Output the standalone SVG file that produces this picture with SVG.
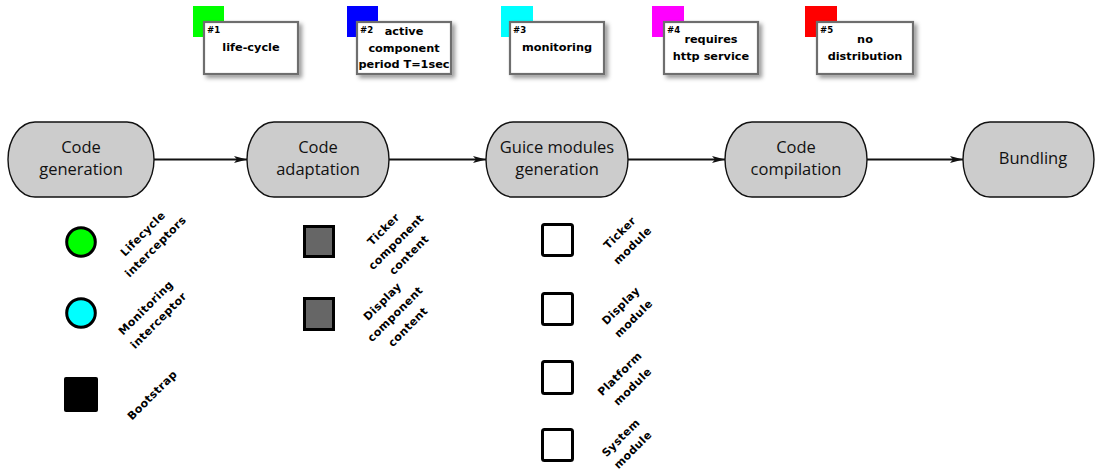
<svg xmlns="http://www.w3.org/2000/svg" width="1097" height="472" viewBox="0 0 1097 472">
  <defs>
    <marker id="arrow" markerUnits="userSpaceOnUse" markerWidth="14" markerHeight="8" refX="13" refY="3.5" orient="auto">
      <path d="M0,0 L13,3.5 L0,7 L3,3.5 z" fill="#111"/>
    </marker>
    <filter id="shadow" x="-20%" y="-20%" width="150%" height="160%">
      <feDropShadow dx="3" dy="3" stdDeviation="2" flood-color="#000" flood-opacity="0.4"/>
    </filter>
  </defs>
  <style>
    .step { fill: #cccccc; stroke: #111; stroke-width: 1.4; }
    .step-text { font-family: "Open Sans", "Liberation Sans", sans-serif; font-size: 16.5px; fill: #111; text-anchor: middle; }
    .note { fill: #ffffff; stroke: #6e6e6e; stroke-width: 2.2; filter: url(#shadow); }
    .note-text { font-family: "DejaVu Sans", sans-serif; font-weight: bold; font-size: 11.3px; fill: #000; text-anchor: middle; }
    .note-num { font-family: "DejaVu Sans Condensed", "DejaVu Sans", sans-serif; font-weight: bold; font-size: 9.5px; fill: #000; }
    .flow { stroke: #111; stroke-width: 2; fill: none; marker-end: url(#arrow); }
    .icon { stroke: #000; stroke-width: 3; }
    .label { font-family: "DejaVu Sans", sans-serif; font-weight: bold; font-size: 11px; letter-spacing: 0.4px; fill: #000; text-anchor: middle; }
  </style>

  <!-- annotation notes -->
  <g id="note1">
    <rect x="193" y="6" width="31" height="31" fill="#00ff00"/>
    <rect class="note" x="204" y="22" width="94" height="52"/>
    <text class="note-num" x="207" y="33">#1</text>
    <text class="note-text" x="251" y="51">life-cycle</text>
  </g>
  <g id="note2">
    <rect x="347" y="6" width="31" height="31" fill="#0000ff"/>
    <rect class="note" x="357" y="22" width="94" height="52"/>
    <text class="note-num" x="360" y="33">#2</text>
    <text class="note-text" x="404" y="35">active</text>
    <text class="note-text" x="404" y="52">component</text>
    <text class="note-text" x="404" y="68">period T=1sec</text>
  </g>
  <g id="note3">
    <rect x="501" y="6" width="32" height="31" fill="#00ffff"/>
    <rect class="note" x="510" y="22" width="94" height="52"/>
    <text class="note-num" x="513" y="33">#3</text>
    <text class="note-text" x="557" y="51">monitoring</text>
  </g>
  <g id="note4">
    <rect x="652" y="6" width="32" height="31" fill="#ff00ff"/>
    <rect class="note" x="664" y="22" width="94" height="52"/>
    <text class="note-num" x="667" y="33">#4</text>
    <text class="note-text" x="711" y="43">requires</text>
    <text class="note-text" x="711" y="60">http service</text>
  </g>
  <g id="note5">
    <rect x="805" y="6" width="32" height="31" fill="#ff0000"/>
    <rect class="note" x="817" y="22" width="96" height="52"/>
    <text class="note-num" x="820" y="33">#5</text>
    <text class="note-text" x="865" y="43">no</text>
    <text class="note-text" x="865" y="60">distribution</text>
  </g>

  <!-- pipeline steps -->
  <g id="code-generation">
    <rect class="step" x="8" y="122" width="146" height="75" rx="27" ry="37.5"/>
    <text class="step-text" x="81" y="153">Code</text>
    <text class="step-text" x="81" y="175">generation</text>
  </g>
  <g id="code-adaptation">
    <rect class="step" x="247" y="122" width="142" height="75" rx="27" ry="37.5"/>
    <text class="step-text" x="318" y="153">Code</text>
    <text class="step-text" x="318" y="175">adaptation</text>
  </g>
  <g id="guice-modules-generation">
    <rect class="step" x="486" y="122" width="142" height="75" rx="27" ry="37.5"/>
    <text class="step-text" x="557" y="153">Guice modules</text>
    <text class="step-text" x="557" y="175">generation</text>
  </g>
  <g id="code-compilation">
    <rect class="step" x="725" y="122" width="142" height="75" rx="27" ry="37.5"/>
    <text class="step-text" x="796" y="153">Code</text>
    <text class="step-text" x="796" y="175">compilation</text>
  </g>
  <g id="bundling">
    <rect class="step" x="963" y="122" width="131" height="75" rx="27" ry="37.5"/>
    <text class="step-text" x="1033" y="164">Bundling</text>
  </g>

  <!-- connectors -->
  <g id="connectors">
    <line class="flow" x1="154" y1="159.5" x2="247" y2="159.5"/>
    <line class="flow" x1="389" y1="159.5" x2="486" y2="159.5"/>
    <line class="flow" x1="628" y1="159.5" x2="725" y2="159.5"/>
    <line class="flow" x1="867" y1="159.5" x2="963" y2="159.5"/>
  </g>

  <!-- artefacts of code generation -->
  <g id="lifecycle-interceptors">
    <circle class="icon" cx="81" cy="242" r="14.3" fill="#00ff00"/>
    <g transform="translate(149,240) rotate(-45)">
      <text class="label" x="0" y="-5">Lifecycle</text>
      <text class="label" x="0" y="13">interceptors</text>
    </g>
  </g>
  <g id="monitoring-interceptor">
    <circle class="icon" cx="81" cy="313" r="14.3" fill="#00ffff"/>
    <g transform="translate(152,314) rotate(-45)">
      <text class="label" x="0" y="-5">Monitoring</text>
      <text class="label" x="0" y="13">interceptor</text>
    </g>
  </g>
  <g id="bootstrap">
    <rect x="64" y="377" width="34" height="35" rx="2" fill="#000"/>
    <g transform="translate(152,395) rotate(-45)">
      <text class="label" x="0" y="4">Bootstrap</text>
    </g>
  </g>

  <!-- artefacts of code adaptation -->
  <g id="ticker-component-content">
    <rect class="icon" x="304.5" y="226.5" width="29" height="30" fill="#666666"/>
    <g transform="translate(396,242) rotate(-45)">
      <text class="label" x="0" y="-14">Ticker</text>
      <text class="label" x="0" y="4">component</text>
      <text class="label" x="0" y="22">content</text>
    </g>
  </g>
  <g id="display-component-content">
    <rect class="icon" x="304.5" y="298.5" width="29" height="31" fill="#666666"/>
    <g transform="translate(395,314) rotate(-45)">
      <text class="label" x="0" y="-14">Display</text>
      <text class="label" x="0" y="4">component</text>
      <text class="label" x="0" y="22">content</text>
    </g>
  </g>

  <!-- generated Guice modules -->
  <g id="ticker-module">
    <rect class="icon" x="542.5" y="224.5" width="30" height="31" rx="2" fill="#fff"/>
    <g transform="translate(626,239) rotate(-45)">
      <text class="label" x="0" y="-5">Ticker</text>
      <text class="label" x="0" y="13">module</text>
    </g>
  </g>
  <g id="display-module">
    <rect class="icon" x="542.5" y="293.5" width="30" height="31" rx="2" fill="#fff"/>
    <g transform="translate(627,312) rotate(-45)">
      <text class="label" x="0" y="-5">Display</text>
      <text class="label" x="0" y="13">module</text>
    </g>
  </g>
  <g id="platform-module">
    <rect class="icon" x="542.5" y="361.5" width="30" height="32" rx="2" fill="#fff"/>
    <g transform="translate(626,380) rotate(-45)">
      <text class="label" x="0" y="-5">Platform</text>
      <text class="label" x="0" y="13">module</text>
    </g>
  </g>
  <g id="system-module">
    <rect class="icon" x="542.5" y="429.5" width="30" height="31" rx="2" fill="#fff"/>
    <g transform="translate(627,444) rotate(-45)">
      <text class="label" x="0" y="-5">System</text>
      <text class="label" x="0" y="12">module</text>
    </g>
  </g>
</svg>
